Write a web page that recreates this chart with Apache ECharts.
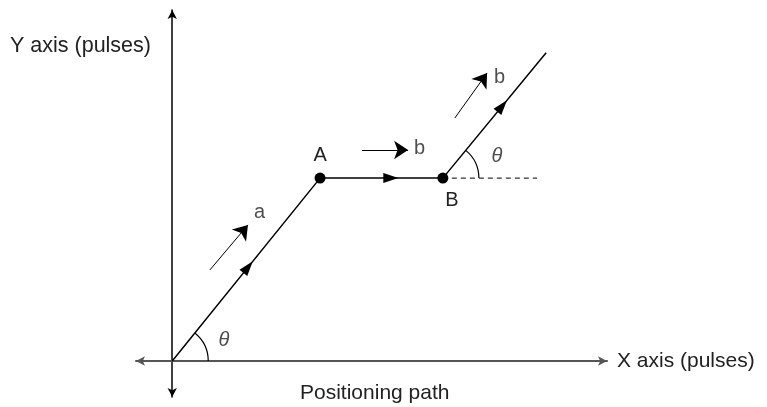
<!DOCTYPE html>
<html>
<head>
<meta charset="utf-8">
<script src="https://cdn.jsdelivr.net/npm/echarts@6/dist/echarts.min.js"></script>
<style>
html,body{margin:0;padding:0;background:#fff;}
#c{width:767px;height:407px;}
</style>
</head>
<body>
<div id="c"></div>
<script>
// Positioning path (data units = pulses, arbitrary scale)
const pathX = [0, 4.08, 7.47, 10.32];
const pathY = [0, 5.08, 5.08, 8.56];
const pointNames = ['', 'A', 'B', ''];
const markedPoints = [1, 2];
// dashed horizontal reference at B
const refX = [7.47, 10.07];
const refY = [5.08, 5.08];
// direction arrows
const dirFromX = [1.04, 5.24, 7.80];
const dirFromY = [2.53, 5.86, 6.75];
const dirToX = [2.09, 6.51, 8.69];
const dirToY = [3.78, 5.86, 8.00];
const dirLabels = ['a', 'b', 'b'];
// arrowhead position along each path segment (fraction)
const arrowT = [0.51, 0.57, 0.57];
// angle labels
const thetaX = [1.43, 8.96];
const thetaY = [0.58, 5.69];
const thetaText = ['θ', 'θ'];
// angle arcs at vertices (index into path: vertex, next point)
const arcVertex = [0, 2];

const FONT = '"Liberation Sans", Arial, Helvetica, sans-serif';
const chart = echarts.init(document.getElementById('c'));

const pathData = pathX.map((x, i) => [x, pathY[i]]);
const segData = [];
for (let i = 0; i < pathX.length - 1; i++) {
  segData.push([pathX[i], pathY[i], pathX[i + 1], pathY[i + 1], arrowT[i]]);
}
const arcData = arcVertex.map(i => [pathX[i], pathY[i], pathX[i + 1], pathY[i + 1]]);

function tri(cx, cy, ang, L, W) {
  const c = Math.cos(ang), s = Math.sin(ang);
  const pts = [[L * 0.55, 0], [-L * 0.45, -W / 2], [-L * 0.45, W / 2]];
  return pts.map(p => [cx + p[0] * c - p[1] * s, cy + p[0] * s + p[1] * c]);
}

const option = {
  animation: false,
  backgroundColor: '#fff',
  title: {
    text: 'Positioning path',
    left: 295, top: 378,
    textStyle: { fontFamily: FONT, fontSize: 21, fontWeight: 'normal', color: '#222' }
  },
  graphic: [{
    type: 'text', left: 10, top: 35,
    style: { text: 'Y axis (pulses)', font: '21.5px ' + FONT, fill: '#222' }
  }],
  grid: { left: 136, right: 160, top: 10, bottom: 10 },
  xAxis: {
    type: 'value', min: -1, max: 12,
    name: 'X axis (pulses)', nameLocation: 'end', nameGap: 10,
    nameTextStyle: { fontFamily: FONT, fontSize: 21, color: '#222', verticalAlign: 'middle', padding: [4, 0, 0, 0] },
    axisLine: { onZero: true, symbol: ['arrow', 'arrow'], symbolSize: [7, 9],
      lineStyle: { color: '#555', width: 2 } },
    axisTick: { show: false }, axisLabel: { show: false }, splitLine: { show: false }
  },
  yAxis: {
    type: 'value', min: -1, max: 9.75,
    axisLine: { onZero: true, symbol: ['arrow', 'arrow'], symbolSize: [7, 9],
      lineStyle: { color: '#000', width: 1.5 } },
    axisTick: { show: false }, axisLabel: { show: false }, splitLine: { show: false }
  },
  series: [
    {
      type: 'line', data: pathData, showSymbol: false, symbol: 'none',
      lineStyle: { color: '#000', width: 1.5 }, z: 3
    },
    {
      type: 'line', data: refX.map((x, i) => [x, refY[i]]), symbol: 'none',
      lineStyle: { color: '#000', width: 1, type: [5, 4] }, z: 2
    },
    {
      type: 'scatter', symbol: 'circle', symbolSize: 11,
      itemStyle: { color: '#000', opacity: 1 }, z: 5,
      data: markedPoints.map(i => ({
        value: [pathX[i], pathY[i]],
        label: {
          show: true, formatter: pointNames[i],
          position: i === 1 ? 'top' : 'bottom',
          offset: i === 1 ? [0, -2] : [9, 2],
          fontFamily: FONT, fontSize: 20, color: '#222'
        }
      }))
    },
    {
      type: 'lines', coordinateSystem: 'cartesian2d', z: 4,
      symbol: ['none', 'arrow'], symbolSize: 14,
      lineStyle: { color: '#000', width: 1, opacity: 1 },
      data: dirFromX.map((x, i) => ({ coords: [[x, dirFromY[i]], [dirToX[i], dirToY[i]]] }))
    },
    {
      type: 'scatter', symbolSize: 0, z: 5,
      data: dirToX.map((x, i) => ({
        value: [x, dirToY[i]],
        label: {
          show: true, formatter: dirLabels[i], position: 'right',
          offset: i === 0 ? [1, -12] : (i === 1 ? [1, -2] : [2, 4]),
          fontFamily: FONT, fontSize: 20, color: '#222'
        }
      }))
    },
    {
      type: 'scatter', symbolSize: 0, z: 5,
      data: thetaX.map((x, i) => ({
        value: [x, thetaY[i]],
        label: { show: true, formatter: thetaText[i], position: 'inside',
          fontFamily: FONT, fontSize: 20, fontStyle: 'italic', color: '#222' }
      }))
    },
    {
      type: 'custom', z: 4,
      data: segData,
      renderItem: function (params, api) {
        const p1 = api.coord([api.value(0), api.value(1)]);
        const p2 = api.coord([api.value(2), api.value(3)]);
        const t = api.value(4);
        const ang = Math.atan2(p2[1] - p1[1], p2[0] - p1[0]);
        const cx = p1[0] + t * (p2[0] - p1[0]);
        const cy = p1[1] + t * (p2[1] - p1[1]);
        return { type: 'polygon', shape: { points: tri(cx, cy, ang, 15, 10) },
          style: { fill: '#000' } };
      }
    },
    {
      type: 'custom', z: 4,
      data: arcData,
      renderItem: function (params, api) {
        const p1 = api.coord([api.value(0), api.value(1)]);
        const p2 = api.coord([api.value(2), api.value(3)]);
        const ang = Math.atan2(p2[1] - p1[1], p2[0] - p1[0]);
        return { type: 'arc', shape: { cx: p1[0], cy: p1[1], r: 36, startAngle: ang, endAngle: 0, clockwise: true },
          style: { stroke: '#000', fill: null, lineWidth: 1.2 } };
      }
    }
  ]
};
chart.setOption(option);
</script>
</body>
</html>
